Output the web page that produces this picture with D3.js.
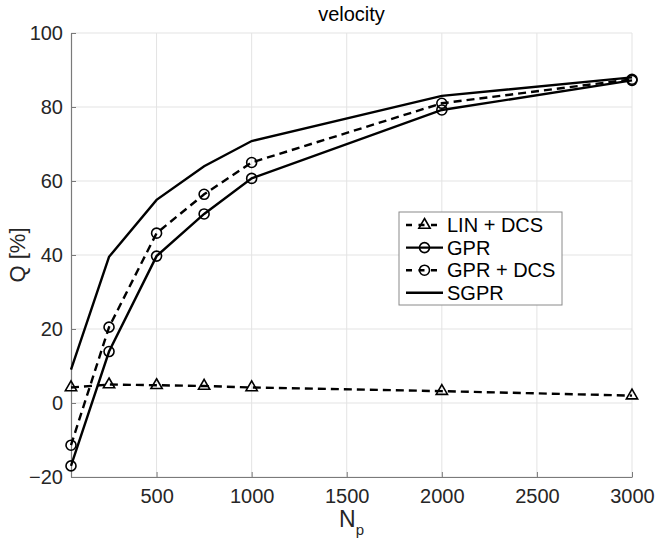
<!DOCTYPE html>
<html>
<head>
<meta charset="utf-8">
<script src="https://cdn.jsdelivr.net/npm/d3@7"></script>
<style>
	body { margin: 0; background: #fff; }
	text { font-family: "Liberation Sans", Arial, sans-serif; fill: #262626; }
</style>
</head>
<body>
<div id="chart"></div>
<script>
var nPoints = [50, 250, 500, 750, 1000, 2000, 3000],
	linDcs = [4.2, 5.0, 4.8, 4.6, 4.2, 3.2, 2.0],
	gpr = [-17.0, 13.9, 39.7, 51.1, 60.7, 79.2, 87.2],
	gprDcs = [-11.4, 20.5, 45.9, 56.4, 65.0, 81.0, 87.5],
	sgpr = [9.0, 39.5, 54.9, 64.0, 70.8, 83.0, 88.0],
	seriesNames = ["LIN + DCS", "GPR", "GPR + DCS", "SGPR"],
	xTicks = [500, 1000, 1500, 2000, 2500, 3000],
	yTicks = [-20, 0, 20, 40, 60, 80, 100];

(function() {
	"use strict";

	var chartWidth = 655,
		chartHeight = 539,
		margin = { top: 33, right: 23, bottom: 62, left: 71 },
		width = chartWidth - margin.left - margin.right,
		height = chartHeight - margin.top - margin.bottom,
		dash = "8,5",
		series = [
			{ name: seriesNames[0], values: linDcs, dashed: true, marker: "triangle" },
			{ name: seriesNames[1], values: gpr, dashed: false, marker: "circle" },
			{ name: seriesNames[2], values: gprDcs, dashed: true, marker: "circle" },
			{ name: seriesNames[3], values: sgpr, dashed: false, marker: null }
		];

	var svg = d3.select("#chart")
		.append("svg")
		.attr("width", chartWidth)
		.attr("height", chartHeight);

	var g = svg.append("g")
		.attr("transform", "translate(" + margin.left + "," + margin.top + ")");

	var x = d3.scaleLinear().domain([50, 3000]).range([0, width]),
		y = d3.scaleLinear().domain([-20, 100]).range([height, 0]);

	// grid
	g.append("g").selectAll("line")
		.data(xTicks)
		.enter().append("line")
		.attr("x1", function(d) { return x(d); })
		.attr("x2", function(d) { return x(d); })
		.attr("y1", 0)
		.attr("y2", height)
		.style("stroke", "#e3e3e3");
	g.append("g").selectAll("line")
		.data(yTicks)
		.enter().append("line")
		.attr("x1", 0)
		.attr("x2", width)
		.attr("y1", function(d) { return y(d); })
		.attr("y2", function(d) { return y(d); })
		.style("stroke", "#e3e3e3");

	// axes (ticks point inward)
	var xAxis = g.append("g")
		.attr("transform", "translate(0," + height + ")")
		.call(d3.axisBottom(x).tickValues(xTicks).tickFormat(d3.format("d")).tickSize(-5).tickSizeOuter(0));
	var yAxis = g.append("g")
		.call(d3.axisLeft(y).tickValues(yTicks).tickFormat(d3.format("d")).tickSize(-5).tickPadding(8).tickSizeOuter(0));

	[xAxis, yAxis].forEach(function(a) {
		a.select(".domain").style("stroke", "#7a7a7a").style("stroke-width", 1.2);
		a.selectAll(".tick line").style("stroke", "#7a7a7a");
		a.selectAll(".tick text")
			.style("font-size", "20px")
			.style("fill", "#262626")
			.attr("font-family", null);
	});
	xAxis.selectAll(".tick text").attr("dy", "0.71em").attr("y", 12);

	// title and labels
	svg.append("text")
		.attr("x", margin.left + width / 2)
		.attr("y", 21)
		.attr("text-anchor", "middle")
		.style("font-size", "20px")
		.style("fill", "#000")
		.text("velocity");

	var xLabel = svg.append("text")
		.attr("x", margin.left + width / 2)
		.attr("y", 527)
		.attr("text-anchor", "middle")
		.style("font-size", "23px")
		.text("N");
	xLabel.append("tspan")
		.attr("dy", 8)
		.style("font-size", "15px")
		.text("p");

	svg.append("text")
		.attr("transform", "translate(25," + (margin.top + height / 2) + ") rotate(-90)")
		.attr("text-anchor", "middle")
		.style("font-size", "22px")
		.text("Q [%]");

	// series
	var line = d3.line()
		.x(function(d) { return x(d[0]); })
		.y(function(d) { return y(d[1]); });

	function drawMarker(sel, type) {
		if (type === "circle") {
			sel.append("circle").attr("r", 5);
		} else if (type === "triangle") {
			sel.append("path").attr("d", d3.symbol().type(d3.symbolTriangle).size(55)());
		}
		sel.style("fill", "none").style("stroke", "#000").style("stroke-width", 1.6);
	}

	series.forEach(function(s) {
		var pts = nPoints.map(function(n, i) { return [n, s.values[i]]; });
		g.append("path")
			.datum(pts)
			.attr("d", line)
			.style("fill", "none")
			.style("stroke", "#000")
			.style("stroke-width", 2.4)
			.style("stroke-dasharray", s.dashed ? dash : null);
		if (s.marker) {
			g.append("g").selectAll("g")
				.data(pts)
				.enter().append("g")
				.attr("transform", function(d) { return "translate(" + x(d[0]) + "," + y(d[1]) + ")"; })
				.call(drawMarker, s.marker);
		}
	});

	// legend
	var legend = svg.append("g").attr("transform", "translate(399,212)");
	legend.append("rect")
		.attr("width", 163)
		.attr("height", 93)
		.style("fill", "#fff")
		.style("stroke", "#8a8a8a");

	var items = legend.selectAll(".item")
		.data(series)
		.enter().append("g")
		.attr("class", "item")
		.attr("transform", function(d, i) { return "translate(0," + (13 + i * 22.6) + ")"; });

	items.append("line")
		.attr("x1", 7)
		.attr("x2", 44)
		.style("stroke", "#000")
		.style("stroke-width", 2.4)
		.style("stroke-dasharray", function(d) { return d.dashed ? "6,6.5" : null; });
	items.each(function(d) {
		if (d.marker) {
			d3.select(this).append("g")
				.attr("transform", "translate(25.5,0)")
				.call(drawMarker, d.marker);
		}
	});
	items.append("text")
		.attr("x", 48)
		.attr("dy", "0.36em")
		.style("font-size", "20px")
		.style("fill", "#000")
		.text(function(d) { return d.name; });
})();
</script>
</body>
</html>
